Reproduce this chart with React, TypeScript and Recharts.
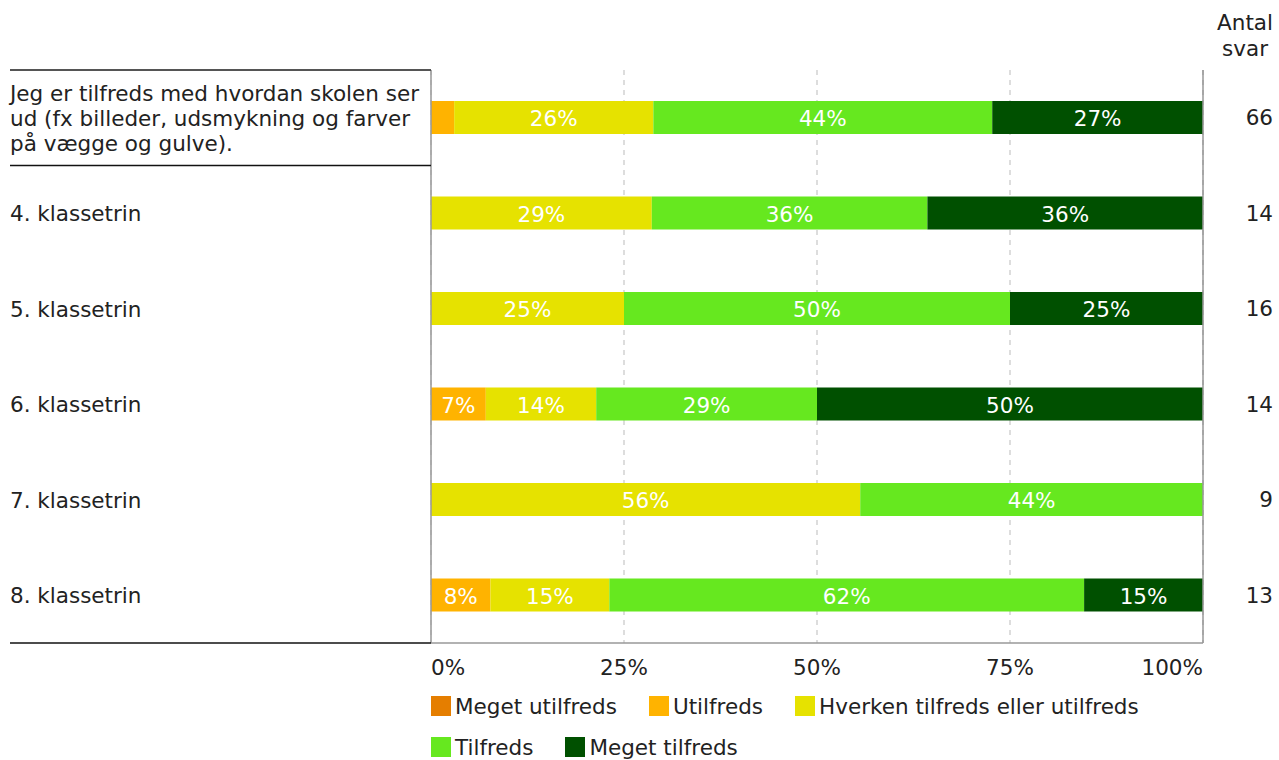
import { BarChart, Bar, XAxis, YAxis, CartesianGrid, LabelList } from 'recharts';

const categories = [
  'Jeg er tilfreds med hvordan skolen ser ud (fx billeder, udsmykning og farver på vægge og gulve).',
  '4. klassetrin',
  '5. klassetrin',
  '6. klassetrin',
  '7. klassetrin',
  '8. klassetrin'
];
const megetUtilfreds = [0, 0, 0, 0, 0, 0];
const utilfreds = [3.0, 0, 0, 7.1, 0, 7.7];
const hverken = [25.8, 28.6, 25, 14.3, 55.6, 15.4];
const tilfreds = [43.9, 35.7, 50, 28.6, 44.4, 61.5];
const megetTilfreds = [27.3, 35.7, 25, 50, 0, 15.4];
const antalSvar = [66, 14, 16, 14, 9, 13];
const xTicks = [0, 25, 50, 75, 100];

const series = [
  { key: 'megetUtilfreds', name: 'Meget utilfreds', color: '#E57E00', values: megetUtilfreds },
  { key: 'utilfreds', name: 'Utilfreds', color: '#FFB300', values: utilfreds },
  { key: 'hverken', name: 'Hverken tilfreds eller utilfreds', color: '#E6E200', values: hverken },
  { key: 'tilfreds', name: 'Tilfreds', color: '#66E81F', values: tilfreds },
  { key: 'megetTilfreds', name: 'Meget tilfreds', color: '#005000', values: megetTilfreds }
];

const data = categories.map((label, i) => {
  const row: Record<string, string | number> = { label, antal: antalSvar[i] };
  series.forEach(s => (row[s.key] = s.values[i]));
  return row;
});

const W = 1279;
const H = 760;
const TOP = 70;
const BOTTOM = 117;
const LEFT_W = 431;
const RIGHT_W = 76;
const ROW_H = (H - TOP - BOTTOM) / categories.length;
const FONT = '"DejaVu Sans", Verdana, sans-serif';
const FS = 21.5;

function wrap(text: string, max: number) {
  const words = text.split(' ');
  const lines: string[] = [];
  let cur = '';
  words.forEach(w => {
    if (cur && (cur + ' ' + w).length > max) {
      lines.push(cur);
      cur = w;
    } else {
      cur = cur ? cur + ' ' + w : w;
    }
  });
  if (cur) lines.push(cur);
  return lines;
}

function LeftTick(props: any) {
  const { y, payload, index } = props;
  const lines = wrap(payload.value, 38);
  const lh = 25;
  const y0 = y - ((lines.length - 1) * lh) / 2;
  return (
    <g>
      {index === 0 && (
        <line x1={10} x2={LEFT_W} y1={y - ROW_H / 2} y2={y - ROW_H / 2} stroke='#555' strokeWidth={2} />
      )}
      {(index === 0 || index === categories.length - 1) && (
        <line x1={10} x2={LEFT_W} y1={y + ROW_H / 2} y2={y + ROW_H / 2} stroke='#111' strokeWidth={1.5} />
      )}
      <text x={10} y={y0} fontSize={FS} fontFamily={FONT} fill='#222' textAnchor='start' dominantBaseline='central'>
        {lines.map((l, i) => (
          <tspan key={i} x={10} y={y0 + i * lh}>{l}</tspan>
        ))}
      </text>
    </g>
  );
}

function RightTick(props: any) {
  const { y, index } = props;
  return (
    <text x={W - 6} y={y} fontSize={FS} fontFamily={FONT} fill='#222' textAnchor='end' dominantBaseline='central'>
      {antalSvar[index]}
    </text>
  );
}

function XTick(props: any) {
  const { x, y, payload, index } = props;
  const anchor = index === 0 ? 'start' : index === xTicks.length - 1 ? 'end' : 'middle';
  return (
    <text x={x} y={y + 24} fontSize={FS} fontFamily={FONT} fill='#222' textAnchor={anchor}>
      {payload.value}%
    </text>
  );
}

function BarLabel(props: any) {
  const { x, y, width, height, value } = props;
  if (!value || value < 5) return null;
  return (
    <text x={x + width / 2} y={y + height / 2 + 1} fontSize={FS} fontFamily={FONT} fill='#fff' textAnchor='middle' dominantBaseline='central'>
      {Math.round(value)}%
    </text>
  );
}

export default function App() {
  return (
    <div style={{ position: 'absolute', left: 0, top: 0, width: W, height: H, background: '#fff', fontFamily: FONT }}>
      <BarChart
        width={W}
        height={H}
        data={data}
        layout='vertical'
        barSize={33}
        margin={{ top: TOP, right: 0, bottom: BOTTOM - 40, left: 0 }}
      >
        <CartesianGrid horizontal={false} vertical={true} stroke='#bbb' strokeDasharray='5 5' />
        <XAxis
          type='number'
          domain={[0, 100]}
          ticks={xTicks}
          height={40}
          axisLine={{ stroke: '#999', strokeWidth: 1.5 }}
          tickLine={false}
          tick={<XTick />}
          interval={0}
        />
        <XAxis xAxisId='top' orientation='top' type='number' domain={[0, 100]} height={0} tick={false} tickLine={false} axisLine={{ stroke: '#999', strokeWidth: 1.5 }} />
        <YAxis
          type='category'
          dataKey='label'
          width={LEFT_W}
          axisLine={{ stroke: '#999', strokeWidth: 1.5 }}
          tickLine={false}
          tick={<LeftTick />}
          interval={0}
        />
        <YAxis
          yAxisId='right'
          orientation='right'
          type='category'
          dataKey='label'
          width={RIGHT_W}
          axisLine={{ stroke: '#999', strokeWidth: 1.5 }}
          tickLine={false}
          tick={<RightTick />}
          interval={0}
        />
        {series.map(s => (
          <Bar key={s.key} dataKey={s.key} name={s.name} stackId='a' fill={s.color} isAnimationActive={false}>
            <LabelList dataKey={s.key} content={<BarLabel />} />
          </Bar>
        ))}
      </BarChart>
      <div style={{ position: 'absolute', right: 6, top: 10, textAlign: 'center', fontSize: FS, lineHeight: '26px', color: '#222' }}>
        Antal
        <br />
        svar
      </div>
      <div
        style={{
          position: 'absolute',
          left: LEFT_W,
          top: 694,
          width: 760,
          display: 'flex',
          flexWrap: 'wrap',
          columnGap: 32,
          rowGap: 17,
          fontSize: FS,
          color: '#222'
        }}
      >
        {series.map(s => (
          <div key={s.key} style={{ display: 'flex', alignItems: 'center', height: 24 }}>
            <span style={{ display: 'inline-block', width: 20, height: 20, background: s.color, marginRight: 4 }} />
            <span>{s.name}</span>
          </div>
        ))}
      </div>
    </div>
  );
}
